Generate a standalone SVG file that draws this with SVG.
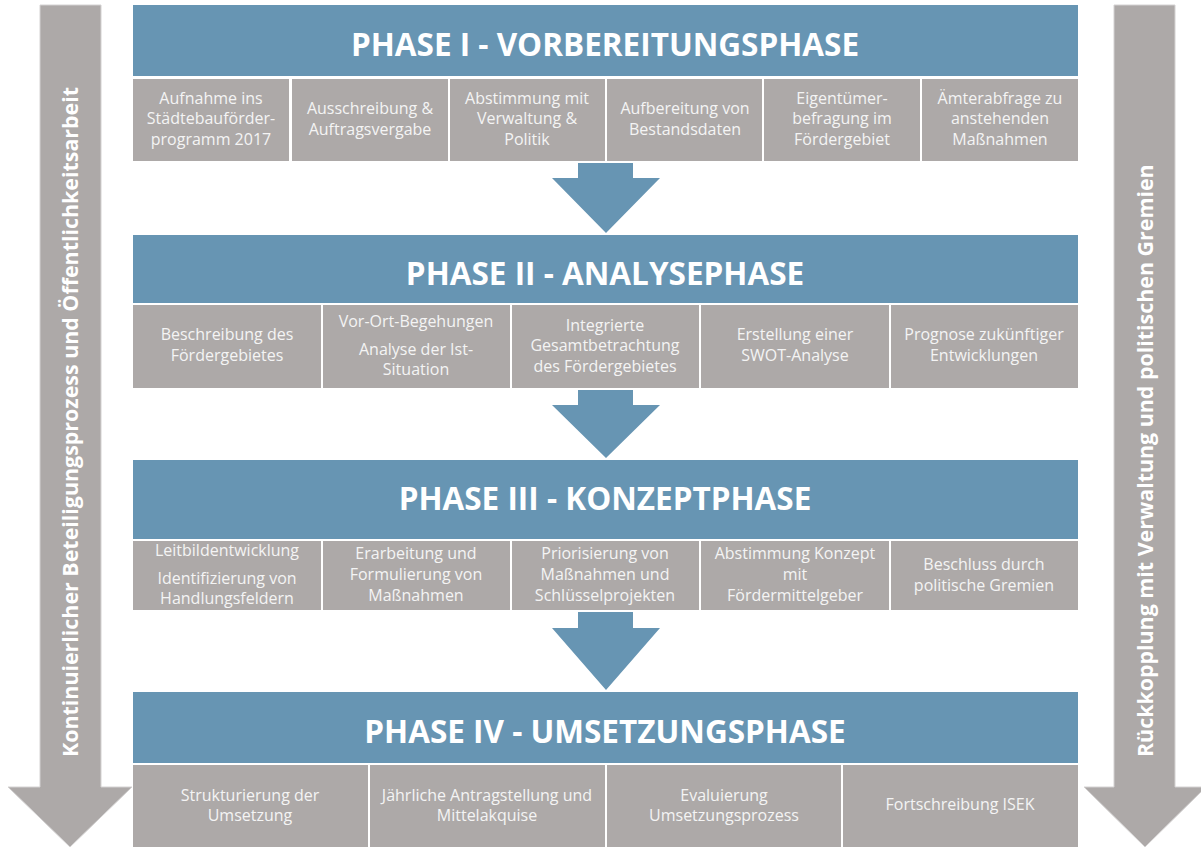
<svg xmlns="http://www.w3.org/2000/svg" width="1201" height="848" viewBox="0 0 1201 848">
<style>
.hdr{fill:#6795B3}
.box{fill:#ADA9A8}
.ht{font-family:"Open Sans",sans-serif;font-weight:bold;font-size:31.5px;fill:#FFFFFF;text-anchor:middle}
.bt{font-family:"Open Sans",sans-serif;font-size:16px;fill:#F4F4F4;text-anchor:middle}
.st{font-family:"Open Sans",sans-serif;font-weight:bold;font-size:21.4px;fill:#FFFFFF}
.side{fill:#ADA9A8;stroke:#D4D2D2;stroke-width:1}
.flow{fill:#6795B3}
</style>
<rect width="1201" height="848" fill="#FFFFFF"/>
<g id="side-left">
<path class="side" d="M40,5 H101 V787 H132 L70,847 L8,787 H40 Z"/>
<text class="st" transform="translate(78,757) rotate(-90)">Kontinuierlicher Beteiligungsprozess und Öffentlichkeitsarbeit</text>
</g>
<g id="side-right">
<path class="side" d="M1114,5 H1175 V787 H1206 L1145,847 L1084,787 H1114 Z"/>
<text class="st" transform="translate(1153,757) rotate(-90)">Rückkopplung mit Verwaltung und politischen Gremien</text>
</g>
<g id="connectors">
<path class="flow" d="M578,163 H633 V178 H660 L606,233 L552,178 H578 Z"/>
<path class="flow" d="M578,390 H633 V405 H660 L606,458 L552,405 H578 Z"/>
<path class="flow" d="M578,612 H633 V628 H660 L606,690 L552,628 H578 Z"/>
</g>
<g id="phase1">
<rect class="hdr" x="133" y="5" width="945" height="71"/>
<text class="ht" x="605" y="56">PHASE I - VORBEREITUNGSPHASE</text>
</g>
<g id="p1b1"><rect class="box" x="133" y="79" width="156" height="82"/><text class="bt" x="211" y="104">Aufnahme ins</text><text class="bt" x="211" y="124">Städtebauförder-</text><text class="bt" x="211" y="145">programm 2017</text></g>
<g id="p1b2"><rect class="box" x="292" y="79" width="156" height="82"/><text class="bt" x="370" y="114">Ausschreibung &amp;</text><text class="bt" x="370" y="135">Auftragsvergabe</text></g>
<g id="p1b3"><rect class="box" x="450" y="79" width="155" height="82"/><text class="bt" x="527" y="104">Abstimmung mit</text><text class="bt" x="527" y="124">Verwaltung &amp;</text><text class="bt" x="527" y="145">Politik</text></g>
<g id="p1b4"><rect class="box" x="607" y="79" width="155" height="82"/><text class="bt" x="685" y="114">Aufbereitung von</text><text class="bt" x="685" y="135">Bestandsdaten</text></g>
<g id="p1b5"><rect class="box" x="764" y="79" width="156" height="82"/><text class="bt" x="842" y="104">Eigentümer-</text><text class="bt" x="842" y="124">befragung im</text><text class="bt" x="842" y="145">Fördergebiet</text></g>
<g id="p1b6"><rect class="box" x="922" y="79" width="156" height="82"/><text class="bt" x="1000" y="104">Ämterabfrage zu</text><text class="bt" x="1000" y="124">anstehenden</text><text class="bt" x="1000" y="145">Maßnahmen</text></g>
<g id="phase2">
<rect class="hdr" x="133" y="235" width="945" height="68"/>
<text class="ht" x="605" y="285">PHASE II - ANALYSEPHASE</text>
</g>
<g id="p2b1"><rect class="box" x="133" y="305" width="188" height="83"/><text class="bt" x="227" y="340">Beschreibung des</text><text class="bt" x="227" y="361">Fördergebietes</text></g>
<g id="p2b2"><rect class="box" x="323" y="305" width="187" height="83"/><text class="bt" x="416" y="327">Vor-Ort-Begehungen</text><text class="bt" x="416" y="355">Analyse der Ist-</text><text class="bt" x="416" y="375">Situation</text></g>
<g id="p2b3"><rect class="box" x="512" y="305" width="187" height="83"/><text class="bt" x="605" y="331">Integrierte</text><text class="bt" x="605" y="351">Gesamtbetrachtung</text><text class="bt" x="605" y="372">des Fördergebietes</text></g>
<g id="p2b4"><rect class="box" x="701" y="305" width="188" height="83"/><text class="bt" x="795" y="340">Erstellung einer</text><text class="bt" x="795" y="361">SWOT-Analyse</text></g>
<g id="p2b5"><rect class="box" x="891" y="305" width="187" height="83"/><text class="bt" x="984" y="340">Prognose zukünftiger</text><text class="bt" x="984" y="361">Entwicklungen</text></g>
<g id="phase3">
<rect class="hdr" x="133" y="460" width="945" height="79"/>
<text class="ht" x="605" y="510">PHASE III - KONZEPTPHASE</text>
</g>
<g id="p3b1"><rect class="box" x="133" y="541" width="188" height="69"/><text class="bt" x="227" y="556">Leitbildentwicklung</text><text class="bt" x="227" y="584">Identifizierung von</text><text class="bt" x="227" y="604">Handlungsfeldern</text></g>
<g id="p3b2"><rect class="box" x="323" y="541" width="187" height="69"/><text class="bt" x="416" y="559">Erarbeitung und</text><text class="bt" x="416" y="580">Formulierung von</text><text class="bt" x="416" y="601">Maßnahmen</text></g>
<g id="p3b3"><rect class="box" x="512" y="541" width="187" height="69"/><text class="bt" x="605" y="559">Priorisierung von</text><text class="bt" x="605" y="580">Maßnahmen und</text><text class="bt" x="605" y="601">Schlüsselprojekten</text></g>
<g id="p3b4"><rect class="box" x="701" y="541" width="188" height="69"/><text class="bt" x="795" y="559">Abstimmung Konzept</text><text class="bt" x="795" y="580">mit</text><text class="bt" x="795" y="601">Fördermittelgeber</text></g>
<g id="p3b5"><rect class="box" x="891" y="541" width="187" height="69"/><text class="bt" x="984" y="570">Beschluss durch</text><text class="bt" x="984" y="591">politische Gremien</text></g>
<g id="phase4">
<rect class="hdr" x="133" y="692" width="945" height="71"/>
<text class="ht" x="605" y="743">PHASE IV - UMSETZUNGSPHASE</text>
</g>
<g id="p4b1"><rect class="box" x="133" y="765" width="235" height="82"/><text class="bt" x="250" y="801">Strukturierung der</text><text class="bt" x="250" y="821">Umsetzung</text></g>
<g id="p4b2"><rect class="box" x="370" y="765" width="235" height="82"/><text class="bt" x="487" y="801">Jährliche Antragstellung und</text><text class="bt" x="487" y="821">Mittelakquise</text></g>
<g id="p4b3"><rect class="box" x="607" y="765" width="234" height="82"/><text class="bt" x="724" y="801">Evaluierung</text><text class="bt" x="724" y="821">Umsetzungsprozess</text></g>
<g id="p4b4"><rect class="box" x="843" y="765" width="235" height="82"/><text class="bt" x="960" y="810">Fortschreibung ISEK</text></g>
</svg>
